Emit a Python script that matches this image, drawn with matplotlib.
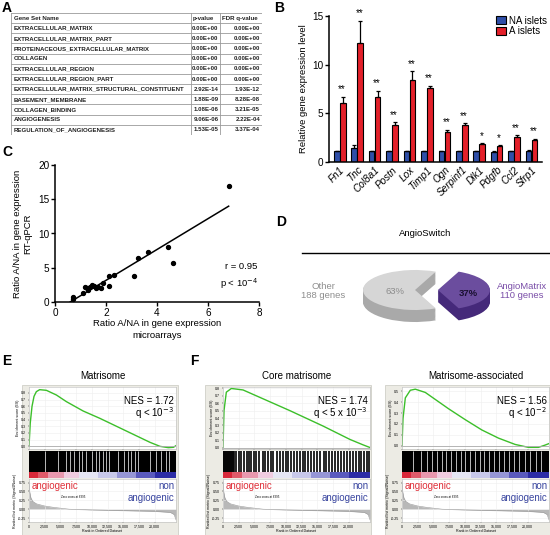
import matplotlib
matplotlib.use('Agg')
import matplotlib.pyplot as plt
import numpy as np
from matplotlib.patches import Rectangle
from matplotlib.lines import Line2D

plt.rcParams['font.family'] = ['Liberation Sans', 'DejaVu Sans']

W, H = 550, 535

# ---------------- DATA ----------------
# Panel A
gene_sets = ['EXTRACELLULAR_MATRIX', 'EXTRACELLULAR_MATRIX_PART',
             'PROTEINACEOUS_EXTRACELLULAR_MATRIX', 'COLLAGEN',
             'EXTRACELLULAR_REGION', 'EXTRACELLULAR_REGION_PART',
             'EXTRACELLULAR_MATRIX_STRUCTURAL_CONSTITUENT', 'BASEMENT_MEMBRANE',
             'COLLAGEN_BINDING', 'ANGIOGENESIS', 'REGULATION_OF_ANGIOGENESIS']
p_values = ['0.00E+00', '0.00E+00', '0.00E+00', '0.00E+00', '0.00E+00', '0.00E+00',
            '2.92E-14', '1.88E-09', '1.08E-06', '9.06E-06', '1.53E-05']
fdr_values = ['0.00E+00', '0.00E+00', '0.00E+00', '0.00E+00', '0.00E+00', '0.00E+00',
              '1.93E-12', '8.28E-08', '3.21E-05', '2.22E-04', '3.37E-04']

# Panel B
genes = ['Fn1', 'Tnc', 'Col8a1', 'Postn', 'Lox', 'Timp1', 'Ogn', 'Serpinf1',
         'Dlk1', 'Pdgfb', 'Ccl2', 'Sfrp1']
na_mean = [1.1, 1.45, 1.1, 1.1, 1.1, 1.1, 1.1, 1.1, 1.1, 1.05, 1.1, 1.15]
na_err = [0.05, 0.3, 0.05, 0.05, 0.05, 0.05, 0.05, 0.05, 0.05, 0.05, 0.05, 0.08]
a_mean = [6.1, 12.2, 6.7, 3.85, 8.4, 7.6, 3.1, 3.8, 1.8, 1.65, 2.6, 2.3]
a_err = [0.6, 2.3, 0.6, 0.25, 0.9, 0.25, 0.2, 0.2, 0.12, 0.05, 0.15, 0.08]
signif = ['**', '**', '**', '**', '**', '**', '**', '**', '*', '*', '**', '**']

# Panel C
micro_ratio = [6.81, 4.44, 4.63, 3.64, 3.26, 3.11, 2.31, 2.11, 2.13, 1.89, 1.80,
               1.67, 1.53, 1.44, 1.37, 1.24, 1.19, 1.11, 0.69, 0.69, 1.30, 1.60]
qpcr_ratio = [16.9, 8.05, 5.76, 7.27, 6.49, 3.76, 3.9, 3.76, 2.34, 2.83, 2.1,
              2.2, 2.34, 2.49, 2.2, 2.1, 2.24, 1.32, 0.73, 0.44, 1.8, 2.0]

# Panel D
pie_values = [110, 188]
pie_pct = ['37%', '63%']

# Panels E/F : running enrichment score (rank, ES)
mat_es_rank = [0, 200, 480, 800, 1170, 1700, 2770, 4360, 5960, 8620, 11280, 13940,
               16600, 19260, 20850, 22180, 22980, 23400]
mat_es_val = [0.0, 0.35, 0.6, 0.75, 0.82, 0.85, 0.84, 0.77, 0.67, 0.53, 0.42, 0.3,
              0.18, 0.06, 0.0, -0.02, -0.015, 0.01]
core_es_rank = [0, 160, 530, 1330, 3190, 5320, 10640, 15950, 20200, 22330, 23400]
core_es_val = [0.0, 0.5, 0.75, 0.8, 0.78, 0.7, 0.5, 0.29, 0.11, 0.035, 0.0]
assoc_es_rank = [0, 160, 530, 1320, 2120, 3710, 7410, 10060, 12710, 15360, 18010,
                 20130, 21720, 22780, 23400]
assoc_es_val = [0.0, 0.25, 0.44, 0.51, 0.52, 0.49, 0.34, 0.24, 0.145, 0.07, 0.012,
                -0.015, -0.015, 0.006, 0.02]

# barcode: white gaps (dense sets) or black hits (core)
mat_gaps = [2500, 4600, 5900, 6500, 7200, 8000, 8500, 9100, 10100, 10600, 11200,
            11700, 12200, 12800, 14100, 15200, 15700, 16200, 16800, 17300, 19200,
            20200, 21000, 21800, 22300]
core_hits = [0, 150, 300, 450, 600, 750, 900, 1050, 1200, 1400, 1600, 1800, 2100,
             2500, 2800, 3300, 3800, 4200, 4500, 5000, 5300, 5800, 6300, 6700, 7200,
             7600, 8000, 8600, 9000, 9500, 10000, 10400, 10900, 11300, 11800, 12300,
             12700, 13100, 13600, 14000, 14500, 15000, 15500, 16000, 16400, 16900,
             17400, 17900, 18300, 18800, 19300, 19700, 20200, 20700, 21100, 21600,
             22000, 22500, 22900, 23300]
assoc_gaps = [1800, 3000, 3900, 4700, 5600, 6300, 7000, 7800, 8600, 9400, 10100,
              10800, 11600, 12400, 13000, 13800, 14600, 15500, 16200, 17000, 17900,
              18700, 19600, 20400, 21300, 22100]

# ranked list metric (rank, value)
metric_rank = [0, 100, 300, 600, 1200, 2500, 4000, 6395, 10000, 15000, 20000,
               22500, 23100, 23400]
metric_val = [0.78, 0.5, 0.32, 0.22, 0.15, 0.09, 0.05, 0.0, -0.02, -0.04, -0.06,
              -0.09, -0.15, -0.3]
rank_ticks = [0, 2500, 5000, 7500, 10000, 12500, 15000, 17500, 20000]

# colour blocks of the ranked list (block start rank, colour)
block_starts = [0, 1500, 3000, 5500, 8000, 11000, 14000, 17000, 20000]
block_colors = ['#d8283a', '#e05a6a', '#e898ae', '#f0cce0', '#e6e6f4', '#c8c8ea',
                '#9696d6', '#5a5abe', '#2c2ca6']

# ---------------- FIGURE ----------------
fig = plt.figure(figsize=(5.5, 5.35), dpi=100)


def px(x0, y0, x1, y1):
    return [x0 / W, 1 - y1 / H, (x1 - x0) / W, (y1 - y0) / H]


def label(x, y, s):
    fig.text(x / W, 1 - y / H, s, fontsize=10, fontweight='bold', ha='left', va='center')


# ---- Panel A: table ----
label(2, 8, 'A')
axA = fig.add_axes(px(11, 13, 262, 135))
axA.set_xlim(11, 262)
axA.set_ylim(12, 0)
axA.axis('off')
grid_c = '#9a9a9a'
for r in range(13):
    axA.plot([11, 262], [r, r], color=grid_c, lw=0.6)
for xv in [11, 191, 220, 262]:
    axA.plot([xv, xv], [0, 12], color=grid_c, lw=0.6)
hdr = dict(fontsize=4.4, fontweight='bold', va='center', color='#222222')
axA.text(13.5, 0.5, 'Gene Set Name', ha='left', **hdr)
axA.text(192.5, 0.5, 'p-value', ha='left', **hdr)
axA.text(221.5, 0.5, 'FDR q-value', ha='left', **hdr)
for i, (g, p, q) in enumerate(zip(gene_sets, p_values, fdr_values)):
    axA.text(13.5, i + 1.5, g, ha='left', **hdr)
    axA.text(218.5, i + 1.5, p, ha='right', **hdr)
    axA.text(260, i + 1.5, q, ha='right', **hdr)

# ---- Panel B: bars ----
label(274, 8, 'B')
axB = fig.add_axes(px(329, 16, 542, 162))
x = np.arange(len(genes))
off, bw = 0.17, 0.32
axB.bar(x - off, na_mean, bw, yerr=[[0] * len(genes), na_err], color='#2f4fa8',
        edgecolor='black', linewidth=0.8, error_kw=dict(lw=0.9, capsize=1.5, capthick=0.9),
        label='NA islets')
axB.bar(x + off, a_mean, bw, yerr=[[0] * len(genes), a_err], color='#e3202a',
        edgecolor='black', linewidth=0.8, error_kw=dict(lw=0.9, capsize=1.5, capthick=0.9),
        label='A islets')
for xi, m, e, s in zip(x, a_mean, a_err, signif):
    axB.text(xi + off - 0.05, m + e + 0.25, s, ha='center', va='bottom', fontsize=7)
axB.set_xlim(-0.62, len(genes) - 0.4)
axB.set_ylim(0, 15)
axB.set_yticks([0, 5, 10, 15])
axB.set_xticks(x)
axB.set_xticklabels(genes, rotation=45, ha='right', rotation_mode='anchor',
                    fontstyle='italic', fontsize=7.2)
axB.tick_params(axis='x', length=0, pad=2)
axB.tick_params(axis='y', labelsize=7.2, length=3, width=1, pad=1)
for sp in ['top', 'right']:
    axB.spines[sp].set_visible(False)
axB.spines['left'].set_linewidth(1.1)
axB.spines['bottom'].set_linewidth(1.1)
axB.set_ylabel('Relative gene expression level', fontsize=6.8, labelpad=3)
axB.legend(loc='upper right', bbox_to_anchor=(1.04, 1.03), frameon=False, fontsize=7,
           handlelength=1.0, handleheight=0.8, handletextpad=0.3, labelspacing=0.1,
           borderaxespad=0)

# ---- Panel C: scatter ----
label(2, 152, 'C')
axC = fig.add_axes(px(55, 165, 259, 302))
axC.scatter(micro_ratio, qpcr_ratio, s=8, color='black', zorder=3)
slope, icpt = np.polyfit(micro_ratio, qpcr_ratio, 1)
xl = np.array([-icpt / slope, max(micro_ratio)])
axC.plot(xl, slope * xl + icpt, color='black', lw=1.1)
axC.set_xlim(0, 8)
axC.set_ylim(0, 20)
axC.set_xticks([0, 2, 4, 6, 8])
axC.set_yticks([0, 5, 10, 15, 20])
axC.tick_params(labelsize=7.2, length=3, width=1, pad=1)
for sp in ['top', 'right']:
    axC.spines[sp].set_visible(False)
axC.spines['left'].set_linewidth(1.1)
axC.spines['bottom'].set_linewidth(1.1)
axC.set_ylabel('Ratio A/NA in gene expression\nRT-qPCR', fontsize=6.8, labelpad=4,
               linespacing=1.2)
axC.set_xlabel('Ratio A/NA in gene expression\nmicroarrays', fontsize=6.8, labelpad=1,
               linespacing=1.4)
axC.text(7.95, 5.2, 'r = 0.95', ha='right', va='center', fontsize=6.8)
axC.text(7.95, 2.7, r'p < 10$^{-4}$', ha='right', va='center', fontsize=6.8)

# ---- Panel D: pie ----
label(276, 222, 'D')
fig.text(425 / W, 1 - 234 / H, 'AngioSwitch', ha='center', va='center', fontsize=6.8)
fig.add_artist(Line2D([302 / W, 550 / W], [1 - 253 / H, 1 - 253 / H], color='black', lw=1))
axD = fig.add_axes(px(355, 262, 505, 330))
shift = 0.44
depth = 0.6
nlay = 14
start = -360 * pie_values[0] / sum(pie_values) / 2
for k in range(nlay, -1, -1):
    d = depth * k / nlay
    top = (k == 0)
    gcol = '#d6d6d6' if top else '#a9a9a9'
    pcol = '#6b4d9e' if top else '#45297a'
    axD.pie(pie_values, colors=['none', gcol], startangle=start, center=(0, -d),
            radius=1, wedgeprops=dict(linewidth=0))
    axD.pie(pie_values, colors=[pcol, 'none'], startangle=start, center=(shift, -d),
            radius=1, wedgeprops=dict(linewidth=0))
axD.set_aspect('auto')
axD.set_xlim(-1.154, 1.73)
axD.set_ylim(-2.0, 1.4)
axD.axis('off')
axD.text(-0.38, -0.1, pie_pct[1], ha='center', va='center', fontsize=6.8, color='#8c8c8c')
axD.text(shift + 0.58, -0.2, pie_pct[0], ha='center', va='center', fontsize=6.8,
         fontweight='bold', color='#1a1030')
fig.text(323 / W, 1 - 291 / H, 'Other\n188 genes', ha='center', va='center', fontsize=6.8,
         color='#8e8e8e', linespacing=1.1)
fig.text(522 / W, 1 - 291 / H, 'AngioMatrix\n110 genes', ha='center', va='center',
         fontsize=6.8, color='#7a4ea8', linespacing=1.1)

# ---- Panels E/F: GSEA ----
label(2, 361, 'E')
label(190, 361, 'F')
RMAX = 23400


def gsea(fx0, fx1, ix0, ix1, title, es_rank, es_val, ylim, yticks, nes, q,
         mode, lines):
    fig.patches.append(Rectangle((fx0 / W, 0), (fx1 - fx0) / W, 1 - 385 / H,
                                 transform=fig.transFigure, facecolor='#ecebe4',
                                 edgecolor='#c8c8c0', lw=0.5, zorder=-10))
    fig.text((ix0 + ix1) / 2 / W, 1 - 376 / H, title, ha='center', va='center',
             fontsize=7)
    tiny = 2.6
    # ES plot
    a1 = fig.add_axes(px(ix0, 387, ix1, 449))
    a1.plot(es_rank, es_val, color='#3cbf2a', lw=1.0)
    a1.axhline(0, color='#aaaaaa', lw=0.6)
    a1.set_xlim(0, RMAX)
    a1.set_ylim(*ylim)
    a1.set_yticks(yticks)
    a1.set_yticklabels(['%.1f' % v for v in yticks])
    a1.set_xticks(rank_ticks)
    a1.set_xticklabels([])
    a1.grid(True, color='#eeeeee', lw=0.4)
    a1.tick_params(labelsize=tiny, length=1, width=0.3, pad=1)
    a1.set_ylabel('Enrichment score (ES)', fontsize=tiny, labelpad=1)
    for sp in a1.spines.values():
        sp.set_color('#bbbbbb')
        sp.set_linewidth(0.4)
    a1.text(0.985, 0.78, nes, transform=a1.transAxes, ha='right', va='center',
            fontsize=7)
    a1.text(0.985, 0.58, q, transform=a1.transAxes, ha='right', va='center',
            fontsize=7)
    # barcode
    a2 = fig.add_axes(px(ix0, 451, ix1, 472))
    if mode == 'gaps':
        a2.set_facecolor('black')
        a2.vlines(lines, 0, 1, color='#d8d8d8', lw=0.6)
    else:
        a2.set_facecolor('white')
        a2.vlines(lines, 0, 1, color='black', lw=1.2)
    a2.set_xlim(0, RMAX)
    a2.set_ylim(0, 1)
    a2.set_xticks([])
    a2.set_yticks([])
    for sp in a2.spines.values():
        sp.set_visible(False)
    # colour bar
    a3 = fig.add_axes(px(ix0, 472, ix1, 478))
    ends = block_starts[1:] + [RMAX]
    for s0, s1, c in zip(block_starts, ends, block_colors):
        a3.axvspan(s0, s1, color=c, lw=0)
    a3.set_xlim(0, RMAX)
    a3.set_ylim(0, 1)
    a3.axis('off')
    # ranked metric
    a4 = fig.add_axes(px(ix0, 479, ix1, 522))
    a4.fill_between(metric_rank, metric_val, 0, color='#b8b8b8', lw=0)
    a4.plot(metric_rank, metric_val, color='#999999', lw=0.4)
    a4.set_xlim(0, RMAX)
    a4.set_ylim(-0.36, 0.85)
    a4.set_yticks([0.75, 0.5, 0.25, 0.0, -0.25])
    a4.set_yticklabels(['0.75', '0.50', '0.25', '0.00', '-0.25'])
    a4.set_xticks(rank_ticks)
    a4.set_xticklabels(['0', '2,500', '5,000', '7,500', '10,000', '12,500', '15,000',
                        '17,500', '20,000'])
    a4.grid(True, color='#eeeeee', lw=0.4)
    a4.tick_params(labelsize=tiny, length=1, width=0.3, pad=1)
    a4.set_ylabel('Ranked list metric (Signal2Noise)', fontsize=tiny, labelpad=1)
    a4.set_xlabel('Rank in Ordered Dataset', fontsize=tiny, labelpad=0.5)
    for sp in a4.spines.values():
        sp.set_color('#bbbbbb')
        sp.set_linewidth(0.4)
    a4.text(7000, 0.33, 'Zero cross at 6395', fontsize=tiny * 0.8, ha='center',
            va='center')
    a4.text(0.015, 0.84, 'angiogenic', transform=a4.transAxes, fontsize=7,
            color='#e0303a', ha='left', va='center')
    a4.text(0.99, 0.84, 'non', transform=a4.transAxes, fontsize=7,
            color='#3a46a0', ha='right', va='center')
    a4.text(0.99, 0.55, 'angiogenic', transform=a4.transAxes, fontsize=7,
            color='#3a46a0', ha='right', va='center')


gsea(22, 178, 29, 176, 'Matrisome', mat_es_rank, mat_es_val, (-0.04, 0.89),
     [0.0, 0.1, 0.2, 0.3, 0.4, 0.5, 0.6, 0.7, 0.8], 'NES = 1.72', r'q < 10$^{-3}$',
     'gaps', mat_gaps)
gsea(205, 371, 223, 370, 'Core matrisome', core_es_rank, core_es_val, (-0.02, 0.82),
     [0.0, 0.1, 0.2, 0.3, 0.4, 0.5, 0.6, 0.7, 0.8], 'NES = 1.74',
     r'q < 5 x 10$^{-3}$', 'hits', core_hits)
gsea(385, 550, 402, 549, 'Matrisome-associated', assoc_es_rank, assoc_es_val,
     (-0.03, 0.54), [0.0, 0.1, 0.2, 0.3, 0.4, 0.5], 'NES = 1.56', r'q < 10$^{-2}$',
     'gaps', assoc_gaps)

fig.savefig('out.png', dpi=100)
